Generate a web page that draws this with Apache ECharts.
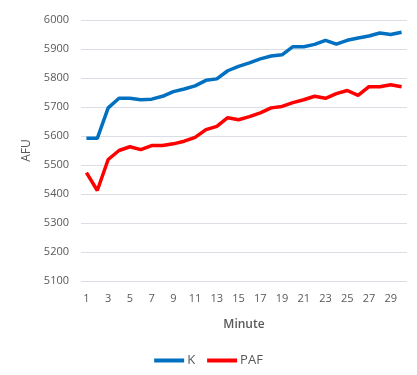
<!DOCTYPE html>
<html><head><meta charset="utf-8">
<script src="https://cdn.jsdelivr.net/npm/echarts@6/dist/echarts.min.js"></script>
<style>html,body{margin:0;padding:0;background:#fff}#c{width:417px;height:375px}</style>
</head><body><div id="c"></div>
<script>
const minutes = Array.from({length:30},(_,i)=>String(i+1));
const kValues = [5592,5592,5697,5730,5730,5725,5727,5737,5753,5762,5773,5792,5797,5825,5840,5852,5866,5876,5880,5908,5908,5916,5930,5917,5930,5938,5945,5955,5950,5958];
const pafValues = [5474,5412,5519,5550,5563,5553,5567,5567,5573,5582,5595,5622,5633,5663,5656,5667,5680,5697,5702,5715,5725,5737,5730,5746,5757,5740,5770,5770,5777,5770];
const seriesNames = ['K','PAF'];
const font = 'Open Sans';
const chart = echarts.init(document.getElementById('c'));
chart.setOption({
  animation:false,
  grid:{left:81,right:10,top:20,bottom:94},
  legend:{bottom:3,left:'center',icon:'rect',itemWidth:30,itemHeight:4,itemGap:12,
    textStyle:{color:'#595959',fontSize:13,fontFamily:font,padding:[0,0,0,-2]},data:seriesNames},
  xAxis:{type:'category',data:minutes,boundaryGap:true,
    name:'Minute',nameLocation:'middle',nameGap:38,
    nameTextStyle:{color:'#595959',fontSize:12,fontWeight:600,fontFamily:font},
    axisLine:{show:false},axisTick:{show:false},
    axisLabel:{interval:1,color:'#595959',fontSize:11,fontFamily:font,margin:12}},
  yAxis:{type:'value',min:5100,max:6000,interval:100,
    name:'AFU',nameLocation:'middle',nameGap:46,
    nameTextStyle:{color:'#595959',fontSize:12,fontFamily:font},
    axisLine:{show:false},axisTick:{show:false},
    axisLabel:{color:'#595959',fontSize:11,fontFamily:font,margin:12,formatter:v=>String(v)}},
  series:[
    {name:seriesNames[0],type:'line',data:kValues,showSymbol:false,color:'#0070C0',lineStyle:{width:3.5,color:'#0070C0'}},
    {name:seriesNames[1],type:'line',data:pafValues,showSymbol:false,color:'#FF0000',lineStyle:{width:3.5,color:'#FF0000'}}
  ]
});
</script></body></html>
